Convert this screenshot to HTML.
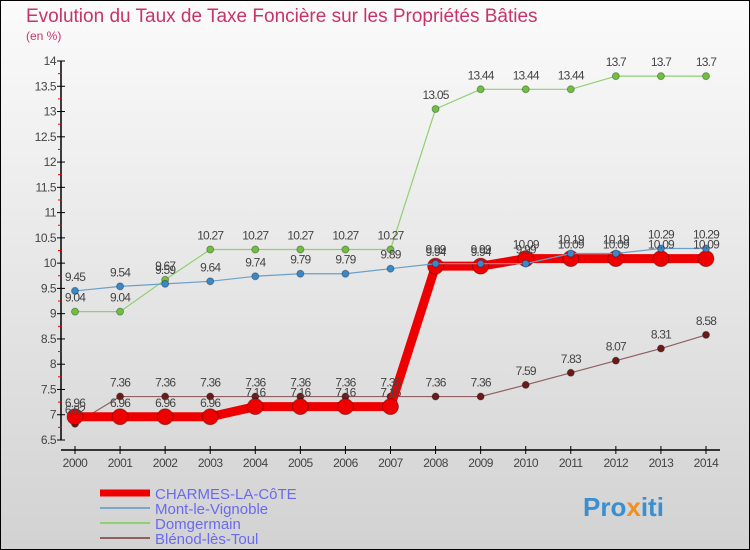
<!DOCTYPE html>
<html><head><meta charset="utf-8"><style>
body{margin:0}
#c{width:750px;height:550px;position:relative;overflow:hidden;font-family:"Liberation Sans",sans-serif}
</style></head><body>
<div id="c">
<svg id="s" width="750" height="550" xmlns="http://www.w3.org/2000/svg">
<defs><linearGradient id="bg" x1="0" y1="0" x2="0" y2="1"><stop offset="0" stop-color="#fbfbfb"/><stop offset="1" stop-color="#d2d2d2"/></linearGradient></defs>
<rect x="0" y="0" width="750" height="550" fill="url(#bg)" stroke="#000" stroke-width="2"/>
<text x="26" y="22" font-size="19" fill="#c8336a">Evolution du Taux de Taxe Foncière sur les Propriétés Bâties</text>
<text x="26" y="40" font-size="12" fill="#c8336a">(en %)</text>
<g id="axes"></g><g id="series"></g><g id="labels"></g>
<g>
<line x1="100" y1="493" x2="150" y2="493" stroke="#e00" stroke-width="7"/>
<text x="155" y="499" font-size="15" fill="#6a6af0">CHARMES-LA-CôTE</text>
<line x1="100" y1="508" x2="150" y2="508" stroke="#7aa8c8" stroke-width="2"/>
<text x="155" y="514" font-size="15" fill="#6a6af0">Mont-le-Vignoble</text>
<line x1="100" y1="523" x2="150" y2="523" stroke="#90d070" stroke-width="2"/>
<text x="155" y="529" font-size="15" fill="#6a6af0">Domgermain</text>
<line x1="100" y1="538" x2="150" y2="538" stroke="#906060" stroke-width="2"/>
<text x="155" y="544" font-size="15" fill="#6a6af0">Blénod-lès-Toul</text>
</g>
<text x="583" y="516" font-size="26" font-weight="bold" fill="#3a8fd0">Pro<tspan fill="#f09020">x</tspan>iti</text>
</svg></div>
<script>
const years=[2000,2001,2002,2003,2004,2005,2006,2007,2008,2009,2010,2011,2012,2013,2014];
const yTicks=[6.5,7,7.5,8,8.5,9,9.5,10,10.5,11,11.5,12,12.5,13,13.5,14];
const charmes=[6.96,6.96,6.96,6.96,7.16,7.16,7.16,7.16,9.94,9.94,10.09,10.09,10.09,10.09,10.09];
const mont=[9.45,9.54,9.59,9.64,9.74,9.79,9.79,9.89,9.99,9.99,9.99,10.19,10.19,10.29,10.29];
const domgermain=[9.04,9.04,9.67,10.27,10.27,10.27,10.27,10.27,13.05,13.44,13.44,13.44,13.7,13.7,13.7];
const blenod=[6.82,7.36,7.36,7.36,7.36,7.36,7.36,7.36,7.36,7.36,7.59,7.83,8.07,8.31,8.58];
const NS="http://www.w3.org/2000/svg";
const X=i=>75+i*(706-75)/14;
const Y=v=>440-(v-6.5)*(440-61)/7.5;
function mk(t,a,p){const e=document.createElementNS(NS,t);for(const k in a)e.setAttribute(k,a[k]);p.appendChild(e);return e;}
const ax=document.getElementById('axes');
let yl=mk('line',{x1:61,y1:61,x2:61,y2:440,stroke:'#000','stroke-width':1.5},ax);


let xl=mk('line',{x1:61,y1:450,x2:720,y2:450,stroke:'#000','stroke-width':1.5},ax);


yTicks.forEach((v,i)=>{
 mk('line',{x1:57,y1:Y(v),x2:65,y2:Y(v),stroke:'#000'},ax);
 if(i<yTicks.length-1)mk('line',{x1:58,y1:Y(v+0.25),x2:62,y2:Y(v+0.25),stroke:'#e00'},ax);
 const t=mk('text',{x:56,y:Y(v)+4,'font-size':12,fill:'#444','text-anchor':'end','letter-spacing':'-0.5'},ax);
 t.textContent=String(v);
 
 
});
years.forEach((y,i)=>{
 mk('line',{x1:X(i),y1:446,x2:X(i),y2:454,stroke:'#000'},ax);
 const t=mk('text',{x:X(i),y:467,'font-size':12,fill:'#444','text-anchor':'middle','letter-spacing':'-0.5'},ax);
 t.textContent=y;
 
 
});
const sg=document.getElementById('series'),lg=document.getElementById('labels');
function draw(data,name,color,w,dot,dotFill){
 const g=mk('g',{},sg);
 
 
 const pl=mk('polyline',{points:data.map((v,i)=>X(i)+','+Y(v)).join(' '),fill:'none',stroke:color,'stroke-width':w,'stroke-linejoin':'round'},g);
 
 
 data.forEach((v,i)=>{
  const c=mk('circle',{cx:X(i),cy:Y(v),r:dot,fill:dotFill,stroke:'rgba(0,0,0,0.3)','stroke-width':1},g);
  
  
  const t=mk('text',{x:X(i),y:Y(v)-10,'font-size':12,fill:'#444','text-anchor':'middle','letter-spacing':'-0.8'},lg);
  t.textContent=String(v);
  
  
 });
}
draw(domgermain,'domgermain','#90d070',1.2,3.5,'#70c040');
draw(blenod,'blenod','#906060',1.2,3.5,'#6a1a1a');
draw(charmes,'charmes','#ee0000',9,8,'#ee0000');
draw(mont,'mont','#6aa0c8',1.2,3.5,'#3a88c8');
</script>
</body></html>
